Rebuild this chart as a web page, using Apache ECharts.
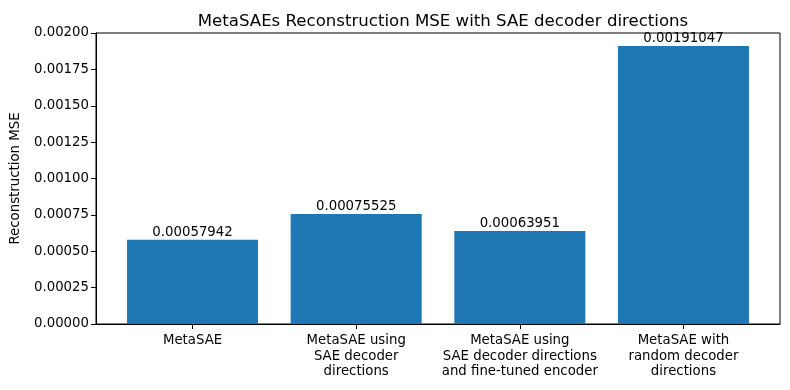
<!DOCTYPE html>
<html><head><meta charset="utf-8">
<script src="https://cdn.jsdelivr.net/npm/echarts@6/dist/echarts.min.js"></script>
<style>html,body{margin:0;padding:0;background:#fff}#c{width:790px;height:390px}</style>
</head><body><div id="c"></div>
<script>
const categories = ["MetaSAE", "MetaSAE using\nSAE decoder\ndirections", "MetaSAE using\nSAE decoder directions\nand fine-tuned encoder", "MetaSAE with\nrandom decoder\ndirections"];
const values = [0.00057942, 0.00075525, 0.00063951, 0.00191047];
const valueLabels = ["0.00057942", "0.00075525", "0.00063951", "0.00191047"];
const yTicks = [0, 0.00025, 0.0005, 0.00075, 0.001, 0.00125, 0.0015, 0.00175, 0.002];
const positions = [0, 1, 2, 3];

const font = "DejaVu Sans";
const fs = 13.3;
const chart = echarts.init(document.getElementById('c'), null, {renderer: 'canvas'});
chart.setOption({
  animation: false,
  textStyle: {fontFamily: font},
  title: {
    text: "MetaSAEs Reconstruction MSE with SAE decoder directions",
    left: 438, top: 8, textAlign: 'center',
    textStyle: {fontFamily: font, fontSize: 16.6, fontWeight: 'normal', color: '#000'}
  },
  grid: {left: 96, right: 10, top: 33, bottom: 66, outerBoundsMode: 'none', containLabel: false,
         show: true, borderColor: '#000', borderWidth: 1, backgroundColor: 'transparent'},
  xAxis: {
    type: 'value', min: -0.59, max: 3.59,
    axisLine: {show: true, onZero: false, lineStyle: {color: '#000', width: 1}},
    axisTick: {show: true, customValues: positions, length: 5, inside: false, lineStyle: {color: '#000'}},
    axisLabel: {
      customValues: positions, color: '#000', fontSize: fs, fontFamily: font, lineHeight: 15.5, margin: 9,
      formatter: v => categories[Math.round(v)] || ''
    },
    splitLine: {show: false}
  },
  yAxis: {
    type: 'value', min: 0, max: 0.002, interval: 0.00025,
    name: 'Reconstruction MSE', nameLocation: 'middle', nameGap: 74, nameRotate: 90,
    nameTextStyle: {color: '#000', fontSize: fs, fontFamily: font},
    axisLine: {show: true, onZero: false, lineStyle: {color: '#000', width: 1}},
    axisTick: {show: true, length: 5, lineStyle: {color: '#000'}},
    axisLabel: {color: '#000', fontSize: fs, fontFamily: font, margin: 7, formatter: v => v.toFixed(5)},
    splitLine: {show: false}
  },
  series: [{
    type: 'bar',
    data: positions.map((p, i) => [p, values[i]]),
    barWidth: 131,
    itemStyle: {color: '#1f77b4'},
    label: {
      show: true, position: 'top', distance: 1, color: '#000', fontSize: fs, fontFamily: font,
      formatter: p => valueLabels[p.dataIndex]
    }
  }]
});
</script></body></html>
